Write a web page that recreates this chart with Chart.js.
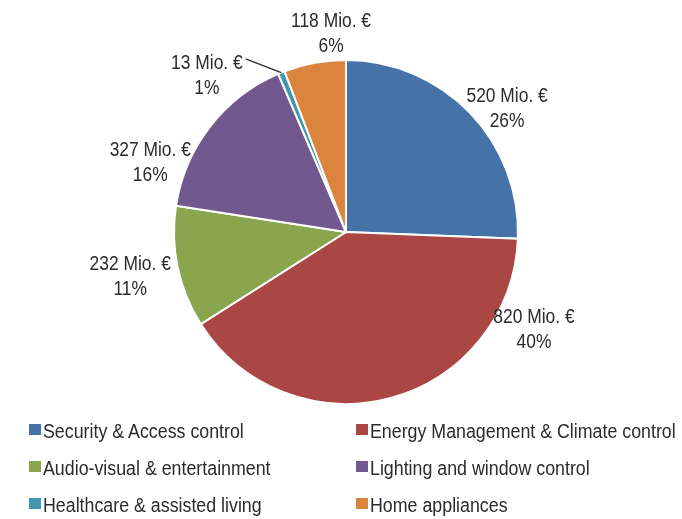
<!DOCTYPE html>
<html>
<head>
<meta charset="utf-8">
<script src="https://cdn.jsdelivr.net/npm/chart.js@4/dist/chart.umd.min.js"></script>
<style>
  html, body { margin: 0; padding: 0; background: #fff; }
  #wrap { position: relative; width: 682px; height: 519px; overflow: hidden; }
  #c { position: absolute; left: 0; top: 0; }
  .lg { position: absolute; font-family: "Liberation Sans", Arial, sans-serif; font-size: 20px; color: #2b2b2b; white-space: nowrap; line-height: 22px; height: 22px; }
  .lg .bx { position: absolute; left: 0; top: 4px; width: 12px; height: 11px; }
  .lg .tx { position: absolute; left: 14px; top: 0; transform: scaleX(0.89); transform-origin: 0 50%; }
</style>
</head>
<body>
<div id="wrap"><canvas id="c" width="682" height="519"></canvas></div>
<script>
const categories = [
  "Security & Access control",
  "Energy Management & Climate control",
  "Audio-visual & entertainment",
  "Lighting and window control",
  "Healthcare & assisted living",
  "Home appliances"
];
const valuesMio = [520, 820, 232, 327, 13, 118];
const percentLabels = ["26%", "40%", "11%", "16%", "1%", "6%"];
const colors = ["#4572A7", "#AA4643", "#89A54E", "#71588F", "#4198AF", "#DB843D"];

// label placement relative to pie (angle clockwise from top in degrees, distance in radii)
const labelPlacement = [
  { a: 52.6, d: 1.179 },
  { a: 117.4, d: 1.231 },
  { a: 258.3, d: 1.281 },
  { a: 289.6, d: 1.208 },
  { a: 318.3, d: 1.216, leader: true },
  { a: 355.7, d: 1.16 }
];

const FONT = '"Liberation Sans", Arial, sans-serif';
const SX = 0.87;

function narrowText(ctx, text, x, y) {
  ctx.save();
  ctx.translate(x, y);
  ctx.scale(SX, 1);
  ctx.fillText(text, 0, 0);
  ctx.restore();
}

const labelPlugin = {
  id: 'outLabels',
  afterDatasetsDraw(chart) {
    const ctx = chart.ctx;
    const meta = chart.getDatasetMeta(0);
    ctx.save();
    ctx.font = '20px ' + FONT;
    ctx.fillStyle = '#2b2b2b';
    ctx.textAlign = 'center';
    ctx.textBaseline = 'middle';
    meta.data.forEach((arc, i) => {
      const cx = arc.x, cy = arc.y, r = arc.outerRadius;
      const p = labelPlacement[i];
      const ang = p.a * Math.PI / 180;
      const lx = cx + Math.sin(ang) * r * p.d;
      const ly = cy - Math.cos(ang) * r * p.d;
      const line1 = valuesMio[i] + ' Mio. €';
      narrowText(ctx, line1, lx, ly - 12);
      narrowText(ctx, percentLabels[i], lx, ly + 13);
      if (p.leader) {
        const mid = (arc.startAngle + arc.endAngle) / 2;
        const ex = cx + Math.cos(mid) * r;
        const ey = cy + Math.sin(mid) * r;
        const w = ctx.measureText(line1).width * SX;
        ctx.beginPath();
        ctx.strokeStyle = '#2b2b2b';
        ctx.lineWidth = 1.2;
        ctx.moveTo(lx + w / 2 + 3, ly - 17);
        ctx.lineTo(ex, ey);
        ctx.stroke();
      }
    });
    ctx.restore();
  }
};

new Chart(document.getElementById('c'), {
  type: 'pie',
  data: {
    labels: categories,
    datasets: [{
      data: valuesMio,
      backgroundColor: colors,
      borderColor: '#ffffff',
      borderWidth: 2
    }]
  },
  options: {
    responsive: false,
    animation: false,
    layout: { padding: { left: 172, right: 162, top: 59, bottom: 114 } },
    plugins: {
      legend: { display: false },
      tooltip: { enabled: false }
    }
  },
  plugins: [labelPlugin]
});

// HTML legend, two columns x three rows
const wrap = document.getElementById('wrap');
const colX = [29, 356];
const rowY = [420, 457, 494];
categories.forEach((name, i) => {
  const d = document.createElement('div');
  d.className = 'lg';
  d.style.left = colX[i % 2] + 'px';
  d.style.top = rowY[Math.floor(i / 2)] + 'px';
  const b = document.createElement('span');
  b.className = 'bx';
  b.style.background = colors[i];
  const t = document.createElement('span');
  t.className = 'tx';
  t.textContent = name;
  d.appendChild(b); d.appendChild(t);
  wrap.appendChild(d);
});
</script>
</body>
</html>
